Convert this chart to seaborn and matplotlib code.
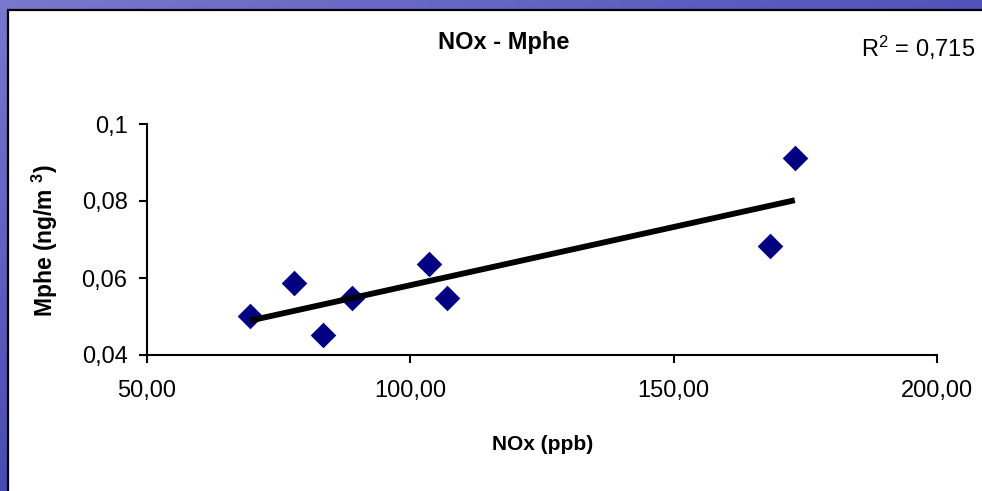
import numpy as np
import pandas as pd
import matplotlib
matplotlib.use("Agg")
import matplotlib.pyplot as plt
import seaborn as sns
from matplotlib.patches import Rectangle

# ---- data ----
nox = [69.6, 77.9, 83.4, 88.9, 103.5, 107.0, 168.3, 173.0]
mphe = [0.0501, 0.0587, 0.0452, 0.0548, 0.0636, 0.0548, 0.0683, 0.0912]
x_ticks = [50, 100, 150, 200]
x_tick_labels = ["50,00", "100,00", "150,00", "200,00"]
y_ticks = [0.04, 0.06, 0.08, 0.1]
y_tick_labels = ["0,04", "0,06", "0,08", "0,1"]
title = "NOx - Mphe"
x_label = "NOx (ppb)"
y_label = r"Mphe (ng/m $\mathbf{^{3}}$)"
r2_text = r"R$^{2}$ = 0,715"

df = pd.DataFrame({"NOx": nox, "Mphe": mphe})

sns.set_theme(style="white")
plt.rcParams["font.family"] = ["Liberation Sans", "DejaVu Sans"]
plt.rcParams["mathtext.fontset"] = "custom"
plt.rcParams["mathtext.rm"] = "Liberation Sans"
plt.rcParams["mathtext.it"] = "Liberation Sans"
plt.rcParams["mathtext.bf"] = "Liberation Sans:bold"
plt.rcParams["text.color"] = "black"
plt.rcParams["axes.labelcolor"] = "black"
plt.rcParams["xtick.color"] = "black"
plt.rcParams["ytick.color"] = "black"

W, H = 982, 491
fig = plt.figure(figsize=(W / 100, H / 100), dpi=100)

# background gradient (slide)
bg = fig.add_axes([0, 0, 1, 1], zorder=-10)
gx = np.linspace(0, 1, 200)
gy = np.linspace(0, 1, 100)
GX, GY = np.meshgrid(gx, gy)
t = np.clip(0.55 * GY + 0.45 * GX, 0, 1)
c_light = np.array([0.47, 0.47, 0.80])
c_dark = np.array([0.14, 0.14, 0.64])
img = c_light[None, None, :] * (1 - t[..., None]) + c_dark[None, None, :] * t[..., None]
img = img[::-1]
bg.imshow(img, aspect="auto", extent=[0, 1, 0, 1], origin="lower")
bg.axis("off")

# white chart box
fig.patches.append(Rectangle((8 / W, -0.05), 1.1, 1 - 10 / H + 0.05,
                             transform=fig.transFigure, facecolor="white",
                             edgecolor="black", linewidth=1.6, zorder=-5))

ax = fig.add_axes([147 / W, 1 - 355 / H, (937 - 147) / W, (355 - 124) / H])
ax.set_facecolor("none")

sns.scatterplot(data=df, x="NOx", y="Mphe", marker="D", s=170, color="#000080",
                edgecolor="#000080", linewidth=0, ax=ax, zorder=3)
sns.regplot(data=df, x="NOx", y="Mphe", scatter=False, ci=None, truncate=True,
            line_kws={"color": "black", "linewidth": 4.2, "solid_capstyle": "butt"},
            ax=ax)
for l in ax.lines:
    l.set_zorder(4)

ax.set_xlim(50, 200)
ax.set_ylim(0.04, 0.1)
ax.set_xticks(x_ticks)
ax.set_xticklabels(x_tick_labels)
ax.set_yticks(y_ticks)
ax.set_yticklabels(y_tick_labels)
ax.tick_params(axis="both", direction="out", length=6, width=1.5, color="black",
               labelsize=17, labelcolor="black", left=True, bottom=True)
ax.tick_params(axis="x", pad=12)
ax.tick_params(axis="y", pad=8)
for s in ["top", "right"]:
    ax.spines[s].set_visible(False)
for s in ["left", "bottom"]:
    ax.spines[s].set_color("black")
    ax.spines[s].set_linewidth(1.5)

ax.set_xlabel("")
ax.set_ylabel("")
fig.text(543 / W, 1 - 445 / H, x_label, ha="center", va="center",
         fontsize=15, fontweight="bold")
fig.text(45 / W, 1 - 241 / H, y_label, ha="center", va="center", rotation=90,
         fontsize=16.5, fontweight="bold")
fig.text(504 / W, 1 - 42 / H, title, ha="center", va="center",
         fontsize=17, fontweight="bold")
fig.text(918 / W, 1 - 48 / H, r2_text, ha="center", va="center", fontsize=17)

fig.savefig("out.png", dpi=100)
